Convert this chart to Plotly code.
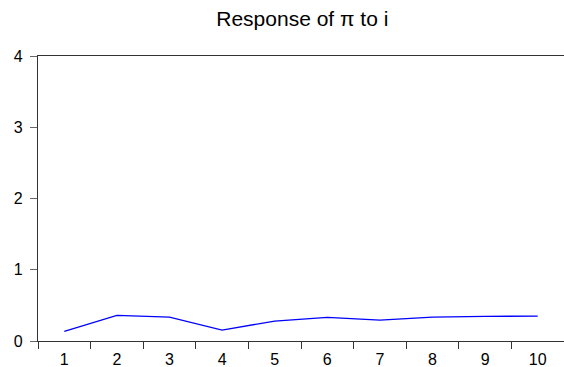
import plotly.graph_objects as go

periods = [1, 2, 3, 4, 5, 6, 7, 8, 9, 10]
response = [0.136, 0.36, 0.336, 0.154, 0.28, 0.332, 0.294, 0.336, 0.345, 0.35]
y_ticks = [0, 1, 2, 3, 4]
title_text = "Response of π to i"

fig = go.Figure()
fig.add_trace(go.Scatter(
    x=periods, y=response, mode="lines",
    line=dict(color="#0000FF", width=1.3),
    showlegend=False, hoverinfo="skip",
))

axis_color = "#333333"
font_family = "Liberation Sans, Arial, sans-serif"

fig.update_layout(
    width=564, height=367,
    margin=dict(l=38, r=0, t=56, b=26),
    paper_bgcolor="white", plot_bgcolor="white",
    font=dict(family=font_family, size=16, color="black"),
    title=dict(text=title_text, x=0.536, xanchor="center", y=0.948, yanchor="middle",
               font=dict(family=font_family, size=21, color="black")),
    xaxis=dict(
        range=[0.5, 10.5], tickmode="array", tickvals=periods,
        ticktext=[str(p) for p in periods],
        ticks="", showgrid=False, zeroline=False, automargin=False,
        showline=True, linecolor=axis_color, linewidth=1.3, mirror=True,
        minor=dict(tickmode="array", tickvals=[p - 0.5 for p in periods] + [periods[-1] + 0.5],
                   ticks="outside", ticklen=7, tickcolor=axis_color, tickwidth=1, showgrid=False),
        tickfont=dict(size=16), ticklabelstandoff=4,
    ),
    yaxis=dict(
        range=[0, 4], tickmode="array", tickvals=y_ticks,
        ticks="outside", ticklen=7, tickcolor="#666666", tickwidth=1,
        showgrid=False, zeroline=False, automargin=False,
        showline=True, linecolor=axis_color, linewidth=1.3, mirror=False,
        tickfont=dict(size=16), ticklabelstandoff=4,
    ),
)

fig.write_html("out.html")
